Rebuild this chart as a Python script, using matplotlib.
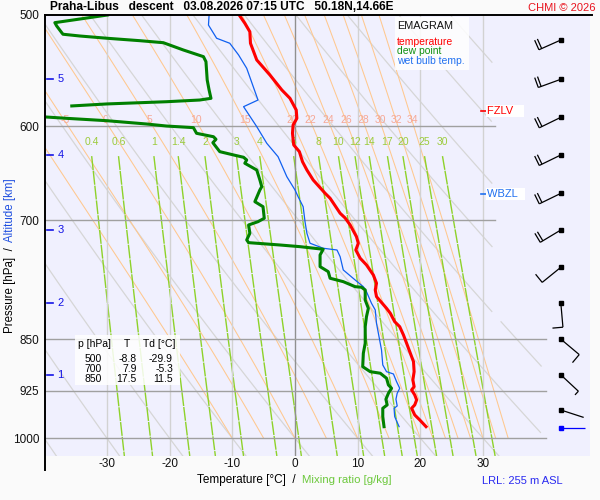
import numpy as np
import matplotlib
matplotlib.use('Agg')
import matplotlib.pyplot as plt
from matplotlib.collections import LineCollection
from matplotlib.patches import Rectangle
from matplotlib.transforms import IdentityTransform

plt.rcParams['font.family'] = ['Liberation Sans', 'DejaVu Sans']

# descent profile (hPa / degC)
temp_p = [500, 506.8, 513.9, 523.7, 538.2, 551.6, 565.3, 573.1, 584.2, 592.2, 598.7, 606.9,
          618.6, 625.4, 635.8, 644.5, 655.1, 669.5, 675.0, 691.8, 697.2, 705.2, 718.8, 726.6,
          734.7, 744.7, 752.9, 765.4, 775.8, 784.4, 793.0, 808.3, 814.9, 826.2, 833.0, 844.4,
          855.9, 867.8, 882.1, 896.7, 908.9, 919.0, 923.9, 931.6, 939.2, 946.9, 952.1, 962.6,
          970.5, 981.2]
temp_t = [-8.9, -8.0, -7.2, -7.1, -6.1, -4.0, -2.1, -0.8, 0.2, 0.3, -0.3, -0.4,
          -0.2, 0.7, 1.2, 1.9, 2.9, 4.8, 5.6, 7.2, 8.0, 8.8, 9.8, 10.1,
          9.7, 10.4, 11.4, 12.5, 13.0, 12.8, 13.0, 14.6, 15.2, 15.9, 16.7, 17.3,
          17.8, 18.3, 18.9, 19.0, 18.8, 19.0, 18.6, 19.1, 19.4, 19.1, 18.6, 19.1,
          19.9, 20.9]

dew_p = [500, 506.3, 509.1, 514.7, 516.0, 517.5, 519.4, 521.5, 523.2, 529.5, 535.3, 539.7,
         556.2, 565.3, 573.1, 574.7, 576.3, 578.4, 580.3, np.nan,
         590.6, 592.2, 594.5, 597.7, 599.7, 601.3, 606.9, 610.3, 612.9, 616.3, 625.4, 628.8,
         631.2, 634.0, 637.4, 644.5, 655.1, 662.3, 665.9, 678.8, 684.4, 697.5, 701.4, 705.2,
         714.9, 722.7, 725.9, 728.7, 730.7, 733.8, 740.7, 755.0, 761.2, 769.5, 773.8, 780.2,
         780.9, 784.4, 797.4, 808.3, 819.5, 833.0, 855.9, 870.1, 889.4, 896.7, 899.0, 906.4,
         916.4, 921.4, 929.0, 938.1, 946.9, 952.1, 965.2, 981.2]
dew_t = [-29.9, -38.3, -38.0, -37.2, -37.0, -34.3, -30.0, -24.7, -21.0, -17.8, -14.6, -14.2,
         -14.0, -13.7, -13.4, -15.2, -20.5, -30.0, -35.6, np.nan,
         -40.5, -36.4, -30.0, -23.7, -20.5, -16.2, -15.7, -13.0, -12.6, -13.1, -12.0, -9.8,
         -8.2, -7.7, -8.0, -6.1, -5.6, -5.3, -5.6, -6.4, -5.1, -4.9, -5.9, -7.4,
         -7.2, -7.7, -7.4, -2.4, 0.8, 4.5, 4.0, 4.0, 5.3, 5.6, 7.7, 9.6,
         10.6, 11.2, 11.2, 11.7, 11.4, 11.2, 11.2, 10.9, 10.8, 12.0, 13.6, 14.6,
         14.9, 15.4, 14.9, 14.5, 14.7, 14.0, 14.0, 14.2]

wet_p = [500, 508.3, 519.4, 523.7, 533.8, 545.6, 574.7, 581.0, 600.3, 616.9, 630.6, 651.6,
         665.9, 673.3, 684.4, 701.4, 714.9, 726.6, 732.6, 734.7, 742.8, 759.1, 771.7, 780.2,
         786.6, 801.7, 810.5, 828.4, 846.7, 865.4, 886.9, 896.7, 900.1, 911.5, 921.4, 929.0,
         938.1, 948.5, 952.1, 965.2, 981.2]
wet_t = [-13.7, -13.8, -12.5, -10.4, -9.0, -7.7, -5.9, -8.2, -6.1, -4.5, -2.7, -1.3,
         0.0, 0.5, 1.3, 1.6, 1.9, 2.4, 4.5, 6.7, 7.2, 7.7, 9.6, 10.9,
         11.4, 12.2, 12.8, 13.0, 13.4, 13.8, 14.0, 14.6, 15.7, 16.2, 16.7, 16.3,
         16.1, 16.3, 15.8, 15.9, 16.6]

# winds every 0.5 km and at the surface
wind_p = [520.9, 555.5, 591.2, 628.8, 669.6, 711.0, 755.8, 801.7, 850.2, 901.4, 954.8, 983.8]
wind_dir = [246, 250, 244, 244, 244, 239, 231, 175, 130, 133, 108, 90]
wind_kt = [20, 20, 20, 20, 20, 20, 10, 10, 10, 5, 2, 2]

alt_km = [5, 4, 3, 2, 1]
alt_p = [555.5, 628.8, 711.0, 801.7, 901.4]

table_p = [500, 700, 850]
table_t = [-8.8, 7.9, 17.5]
table_td = [-29.9, -5.3, 11.5]

fzlv_p = 585.0
wbzl_p = 670.6

p_ticks = [500, 600, 700, 850, 925, 1000]
t_ticks = [-30, -20, -10, 0, 10, 20, 30]
theta_dry = list(range(-40, 100, 10))
theta_w = [-10, -5, 0, 5, 10, 15, 20, 22, 24, 26, 28, 30, 32, 34]
mix_ratio = [0.4, 0.6, 1, 1.4, 2, 3, 4, 6, 8, 10, 12, 14, 17, 20, 25, 30]

BG = '#F0F0FE'
W, H = 600, 500


def ftxt(x, y, s, **kw):
    # figure text placed in pixel units of the 600x500 image
    return fig.text(x / W, 1 - y / H, s, **kw)


def es(tc):
    return 6.112 * np.exp(17.67 * tc / (tc + 243.5))


def moist(tw, plev):
    Rd, cp, Lv, eps = 287.04, 1005.7, 2.501e6, 0.622

    def f(T, p):
        e = es(T - 273.15)
        rs = eps * e / (p - e)
        return (Rd * T + Lv * rs) / (p * (cp + Lv * Lv * rs * eps / (Rd * T * T)))

    T = tw + 273.15
    out = [T]
    for p0, p1 in zip(plev[:-1], plev[1:]):
        k1 = f(T, p0)
        k2 = f(T + k1 * (p1 - p0), p1)
        T = T + 0.5 * (k1 + k2) * (p1 - p0)
        out.append(T)
    return np.array(out) - 273.15


fig = plt.figure(figsize=(6, 5), dpi=100, facecolor='#FAFAFA')
ax = fig.add_axes([45 / W, 1 - 456 / H, 545 / W, 441 / H])
ax.set_facecolor(BG)
ax.set_yscale('log')
ax.set_xlim(-39.87, 47.05)
ax.set_ylim(1029.5, 500)
ax.autoscale(False)
for s in ax.spines.values():
    s.set_visible(False)

ax.set_yticks(p_ticks)
ax.set_yticklabels([str(p) for p in p_ticks])
ax.yaxis.set_minor_locator(matplotlib.ticker.NullLocator())
ax.set_xticks(t_ticks)
ax.set_xticklabels([str(t) for t in t_ticks])
ax.tick_params(length=0, labelsize=8.5, colors='#111111')
ax.tick_params(axis='y', pad=4)
ax.tick_params(axis='x', pad=1.5)

# isotherms / isobars
for t in t_ticks:
    ax.axvline(t, color='#909090' if t == 0 else '#D2D2D2', lw=1, zorder=1.5)
for p in p_ticks[1:]:
    tmax = 31.9 if p < 800 else 40.0
    ax.plot([-39.87, tmax], [p, p], color='#A0A0A0', lw=1, zorder=1.5)

# dry adiabats
pp = np.geomspace(500, 1029.5, 300)
tlim = np.where(pp < 825, 31.5, 39.3)
for th in theta_dry:
    t = (th + 273.15) * (pp / 1000.0) ** 0.2857 - 273.15
    t = np.where(t > tlim, np.nan, t)
    ax.plot(t, pp, color='#D6D6D6', lw=0.9, zorder=1)

# pseudo-adiabats
pm = np.linspace(1000, 500, 501)
for tw in theta_w:
    t = moist(tw, pm)
    ax.plot(t, pm, color='#FFC88F', lw=0.75, zorder=1.2)
    if tw >= -5:
        tl = np.interp(595, pm[::-1], t[::-1])
        ax.text(tl, 594, str(tw), color='#F6A896', fontsize=7.5, ha='center', va='center',
                zorder=1.3)

# mixing ratio lines
pw = np.geomspace(630, 1029.5, 100)
for w in mix_ratio:
    e = w * pw / (622.0 + w)
    le = np.log(e / 6.112)
    td = 243.5 * le / (17.67 - le)
    ax.plot(td, pw, color='#8ED22A', lw=1.0, dashes=(10, 0.7), zorder=1.4)
    ax.text(td[0], 616, ('%g' % w), color='#9CCB3C', fontsize=7.5, ha='center', va='center')

# profiles
ax.plot(wet_t, wet_p, color='#1060F0', lw=0.9, zorder=3)
ax.plot(dew_t, dew_p, color='#008000', lw=2.2, zorder=3.1)
ax.plot(temp_t, temp_p, color='#FF0000', lw=2.2, zorder=3.2)

# altitude scale
for km, p in zip(alt_km, alt_p):
    ax.plot([-39.55, -38.6], [p, p], color='#1414E6', lw=1.2, zorder=4)
    ax.text(-37.9, p, str(km), color='#1414E6', fontsize=8, ha='left', va='center', zorder=4)

# wind barbs
wind_x = 42.4
segs, cols = [], []
for p, d, v in zip(wind_p, wind_dir, wind_kt):
    c = '#0000FF' if p == wind_p[-1] else '#000000'
    bx, by = ax.transData.transform((wind_x, p))
    th = np.deg2rad(d)
    dx, dy = np.sin(th), np.cos(th)
    rx, ry = dy, -dx
    L = 24
    segs.append([(bx, by), (bx + dx * L, by + dy * L)])
    cols.append(c)
    pos = L
    for i in range(int(v // 10)):
        sx, sy = bx + dx * pos, by + dy * pos
        segs.append([(sx, sy), (sx + rx * 10.5, sy + ry * 10.5)])
        cols.append(c)
        pos -= 3
    if v % 10 >= 5:
        sx, sy = bx + dx * pos, by + dy * pos
        segs.append([(sx, sy), (sx + rx * 5, sy + ry * 5)])
        cols.append(c)
    ax.plot(wind_x, p, marker='s', ms=2.6, color=c, zorder=5)
lc = LineCollection(segs, colors=cols, linewidths=0.9, transform=IdentityTransform(), zorder=5)
ax.add_collection(lc, autolim=False)

# freezing / wet bulb zero levels
ax.plot([29.7, 30.5], [fzlv_p, fzlv_p], color='#FF0000', lw=1.2, zorder=5)
ax.text(30.7, fzlv_p, 'FZLV   ', color='#FF0000', fontsize=8, ha='left', va='center', zorder=5,
        bbox=dict(facecolor='white', edgecolor='none', pad=0.8))
ax.plot([29.6, 30.4], [wbzl_p, wbzl_p], color='#2070F0', lw=1.2, zorder=5)
ax.text(30.6, wbzl_p, 'WBZL  ', color='#2070F0', fontsize=8, ha='left', va='center', zorder=5,
        bbox=dict(facecolor='white', edgecolor='none', pad=0.8))

# frame lines
fig.add_artist(plt.Line2D([45 / W, 45 / W], [1 - 15 / H, 1 - 470 / H], color='black', lw=1.4))
fig.add_artist(plt.Line2D([45 / W, 592 / W], [1 - 15 / H, 1 - 15 / H], color='black', lw=1.4))

# legend box
fig.add_artist(Rectangle((395 / W, 1 - 70 / H), 74 / W, 53 / H, transform=fig.transFigure,
                         facecolor='white', edgecolor='none', alpha=0.85, zorder=6))
ftxt(397, 26, 'EMAGRAM', fontsize=7.8, color='#111111', va='center', zorder=7)
ftxt(397, 42, 'temperature', fontsize=7.5, color='#FF0000', va='center', zorder=7)
ftxt(397, 51.5, 'dew point', fontsize=7.5, color='#109010', va='center', zorder=7)
ftxt(397, 61, 'wet bulb temp.', fontsize=7.5, color='#2070F0', va='center', zorder=7)

# table box
fig.add_artist(Rectangle((75 / W, 1 - 385 / H), 105 / W, 50 / H, transform=fig.transFigure,
                         facecolor='white', edgecolor='none', alpha=0.85, zorder=6))
ftxt(78, 344, 'p [hPa]', fontsize=7.5, va='center', zorder=7)
ftxt(127, 344, 'T', fontsize=7.5, ha='center', va='center', zorder=7)
ftxt(143, 344, 'Td [°C]', fontsize=7.5, va='center', zorder=7)
for i, (p, t, td) in enumerate(zip(table_p, table_t, table_td)):
    y = 358.7 + i * 9.9
    ftxt(102, y, str(p), fontsize=7.5, ha='right', va='center', zorder=7)
    ftxt(136.7, y, '%.1f' % t, fontsize=7.5, ha='right', va='center', zorder=7)
    ftxt(173, y, '%.1f' % td, fontsize=7.5, ha='right', va='center', zorder=7)

# titles and axis captions
ftxt(50, 7.5, 'Praha-Libus   descent   03.08.2026 07:15 UTC   50.18N,14.66E',
     fontsize=8.6, fontweight='bold', va='center')
ftxt(596, 8, 'CHMI © 2026', fontsize=8, color='#E8141E', ha='right', va='center')
ftxt(10, 333, 'Pressure [hPa]  /', fontsize=8.3, rotation=90, rotation_mode='anchor',
     ha='left', va='center')
ftxt(10, 242, 'Altitude [km]', fontsize=8.3, rotation=90, rotation_mode='anchor',
     ha='left', va='center', color='#2050E0')
ftxt(197, 480, 'Temperature [°C]  /', fontsize=8.5, va='center')
ftxt(302, 480, 'Mixing ratio [g/kg]', fontsize=8.2, va='center', color='#6CC83C')
ftxt(482, 481, 'LRL: 255 m ASL', fontsize=8, va='center', color='#2A2AF0')

fig.savefig('out.png', dpi=100, facecolor=fig.get_facecolor())
